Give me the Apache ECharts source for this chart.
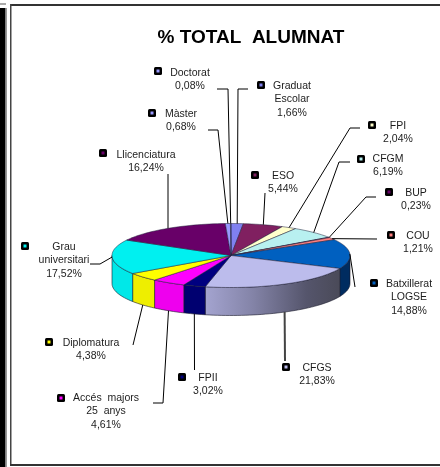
<!DOCTYPE html>
<html><head><meta charset="utf-8">
<style>html,body{margin:0;padding:0;background:#fff}#c{width:440px;height:467px}</style>
<script src="https://cdn.jsdelivr.net/npm/echarts@6/dist/echarts.min.js"></script>
</head><body><div id="c"></div>
<script>
// ---- data
var titleText = '% TOTAL  ALUMNAT';
var categories = ['Graduat\nEscolar','ESO','FPI','CFGM','BUP','COU','Batxillerat\nLOGSE','CFGS','FPII','Accés  majors\n25  anys','Diplomatura','Grau\nuniversitari','Llicenciatura','Màster','Doctorat'];
var values = [1.66,5.44,2.04,6.19,0.23,1.21,14.88,21.83,3.02,4.61,4.38,17.52,16.24,0.68,0.08];
var valueLabels = ['1,66%','5,44%','2,04%','6,19%','0,23%','1,21%','14,88%','21,83%','3,02%','4,61%','4,38%','17,52%','16,24%','0,68%','0,08%'];

// ---- styles and layout
var topColors = ['#8080F0','#802060','#FFFFCC','#B8F0F0','#660066','#FF8080','#0060C0','#BCBCEC','#000080','#FF00FF','#FFFF00','#00F0F0','#680068','#9999FF','#9999FF'];
var sideColors = ['#6060c0','#601848','#c0c0a0','#90c0c0','#4c004c','#c06060','#002C60',null,'#000070','#EE00EE','#EEEE00','#00E8E8','#500050','#7070c0','#7070c0'];
var geom = {cx:231, cy:255.5, a:119, b:32, depth:28};
// label centre x, first-line y; key x,y; leader elbow points (pie end comes from the slice angle)
var labelLayout = [
 {x:292,y:86, kx:261,ky:85, lead:[[248,89],[238,89]]},
 {x:283,y:176,kx:255,ky:175,lead:[[265,193]]},
 {x:398,y:126,kx:372,ky:125,lead:[[360,128],[350,128]]},
 {x:388,y:159,kx:361,ky:159,lead:[[350,162],[339,162]]},
 {x:416,y:193,kx:389,ky:192,lead:[[376,197],[366,197]]},
 {x:418,y:236,kx:391,ky:235,lead:[[377,239]]},
 {x:409,y:284,kx:374,ky:283,lead:[[355,287]]},
 {x:317,y:368,kx:286,ky:367,lead:[[285,361]],w:2,c:'#444'},
 {x:208,y:378,kx:182,ky:377,lead:[[194.5,370]]},
 {x:106,y:398,kx:61, ky:398,lead:[[153,403],[163,403]]},
 {x:91, y:343,kx:49, ky:342,lead:[[133,345]]},
 {x:64, y:247,kx:25, ky:246,lead:[[90,264],[100,264]]},
 {x:146,y:155,kx:103,ky:153,lead:[[168,174]]},
 {x:181,y:114,kx:152,ky:113,lead:[[208,130],[218,130]]},
 {x:190,y:73, kx:158,ky:71, lead:[[217,89],[228,89]]}
];
var FONT = '"Liberation Sans", Arial, sans-serif';

// ---- geometry derived from the values
var total = values.reduce(function(s,v){return s+v;},0);
var cum = [], run = 0;
values.forEach(function(v){cum.push([run/total*360,(run+v)/total*360]);run+=v;});
function pt(deg,dy){var r=deg*Math.PI/180;return [geom.cx+geom.a*Math.sin(r), geom.cy-geom.b*Math.cos(r)+(dy||0)];}
function arc(d0,d1,dy){var n=Math.max(2,Math.ceil((d1-d0)/2)),o=[];for(var i=0;i<=n;i++)o.push(pt(d0+(d1-d0)*i/n,dy));return o;}

function renderSide(p,api){
  var i=api.value(0),s=Math.max(cum[i][0],90),e=Math.min(cum[i][1],270);
  if(e<=s) return null;
  var pts=arc(s,e,0).concat(arc(s,e,geom.depth).reverse());
  var fill=sideColors[i];
  if(!fill){
    // gradient runs lighter at the left, darker at the right
    fill=new echarts.graphic.LinearGradient(0,0,1,0,[{offset:0,color:'#a4a4d0'},{offset:0.35,color:'#8484a8'},{offset:0.75,color:'#55556c'},{offset:1,color:'#4a4a58'}]);
  }
  return {type:'polygon',shape:{points:pts},style:{fill:fill,stroke:'#1a1a2a',lineWidth:0.6}};
}
function renderTop(p,api){
  var i=api.value(0);
  var pts=[[geom.cx,geom.cy]].concat(arc(cum[i][0],cum[i][1],0));
  return {type:'polygon',shape:{points:pts},style:{fill:topColors[i],stroke:'#20203a',lineWidth:0.5}};
}
function renderLabel(p,api){
  var i=api.value(0),L=labelLayout[i],mid=(cum[i][0]+cum[i][1])/2;
  var end=pt(mid,(mid>100&&mid<260)?geom.depth:0);
  var lines=categories[i].split('\n').concat([valueLabels[i]]);
  var kids=[{type:'polyline',shape:{points:L.lead.concat([end])},style:{fill:'none',stroke:L.c||'#000',lineWidth:L.w||1}},
    {type:'rect',shape:{x:L.kx-4,y:L.ky-4,width:8,height:8,r:1.5},style:{fill:'#000'}},
    {type:'rect',shape:{x:L.kx-1.5,y:L.ky-1.5,width:3,height:3},style:{fill:topColors[i]}}];
  lines.forEach(function(t,k){
    var extra=(lines.length===3&&k===2)?1:0;
    kids.push({type:'text',style:{text:t,x:L.x,y:L.y+k*13+extra,align:'center',verticalAlign:'middle',fill:'#1c1c1c',font:'10.5px '+FONT}});
  });
  return {type:'group',children:kids};
}
var idx=values.map(function(v,i){return [i,v];});
var chart=echarts.init(document.getElementById('c'),null,{renderer:'canvas'});
chart.setOption({
  animation:false,backgroundColor:'#fff',
  title:{text:titleText,left:246,top:23,textAlign:'center',textStyle:{fontFamily:FONT,fontSize:19,fontWeight:'bold',color:'#000'}},
  graphic:[
    {type:'rect',z:0,shape:{x:0,y:8,width:5.5,height:459},style:{fill:'#000'}},
    {type:'rect',z:0,shape:{x:0,y:3,width:6,height:2},style:{fill:'#aaa'}},
    {type:'rect',z:0,shape:{x:6,y:8,width:1,height:459},style:{fill:'#999'}},
    {type:'rect',z:0,shape:{x:10,y:4,width:430,height:2},style:{fill:'#333'}},
    {type:'rect',z:0,shape:{x:10,y:4,width:1.5,height:461},style:{fill:'#444'}},
    {type:'rect',z:0,shape:{x:10,y:464,width:430,height:2},style:{fill:'#333'}}
  ],
  series:[
    {type:'custom',coordinateSystem:'none',renderItem:renderSide,data:idx,z:2,silent:true},
    {type:'custom',coordinateSystem:'none',renderItem:renderTop,data:idx,z:3,silent:true},
    {type:'custom',coordinateSystem:'none',renderItem:renderLabel,data:idx,z:4,silent:true}
  ]
});
</script></body></html>
